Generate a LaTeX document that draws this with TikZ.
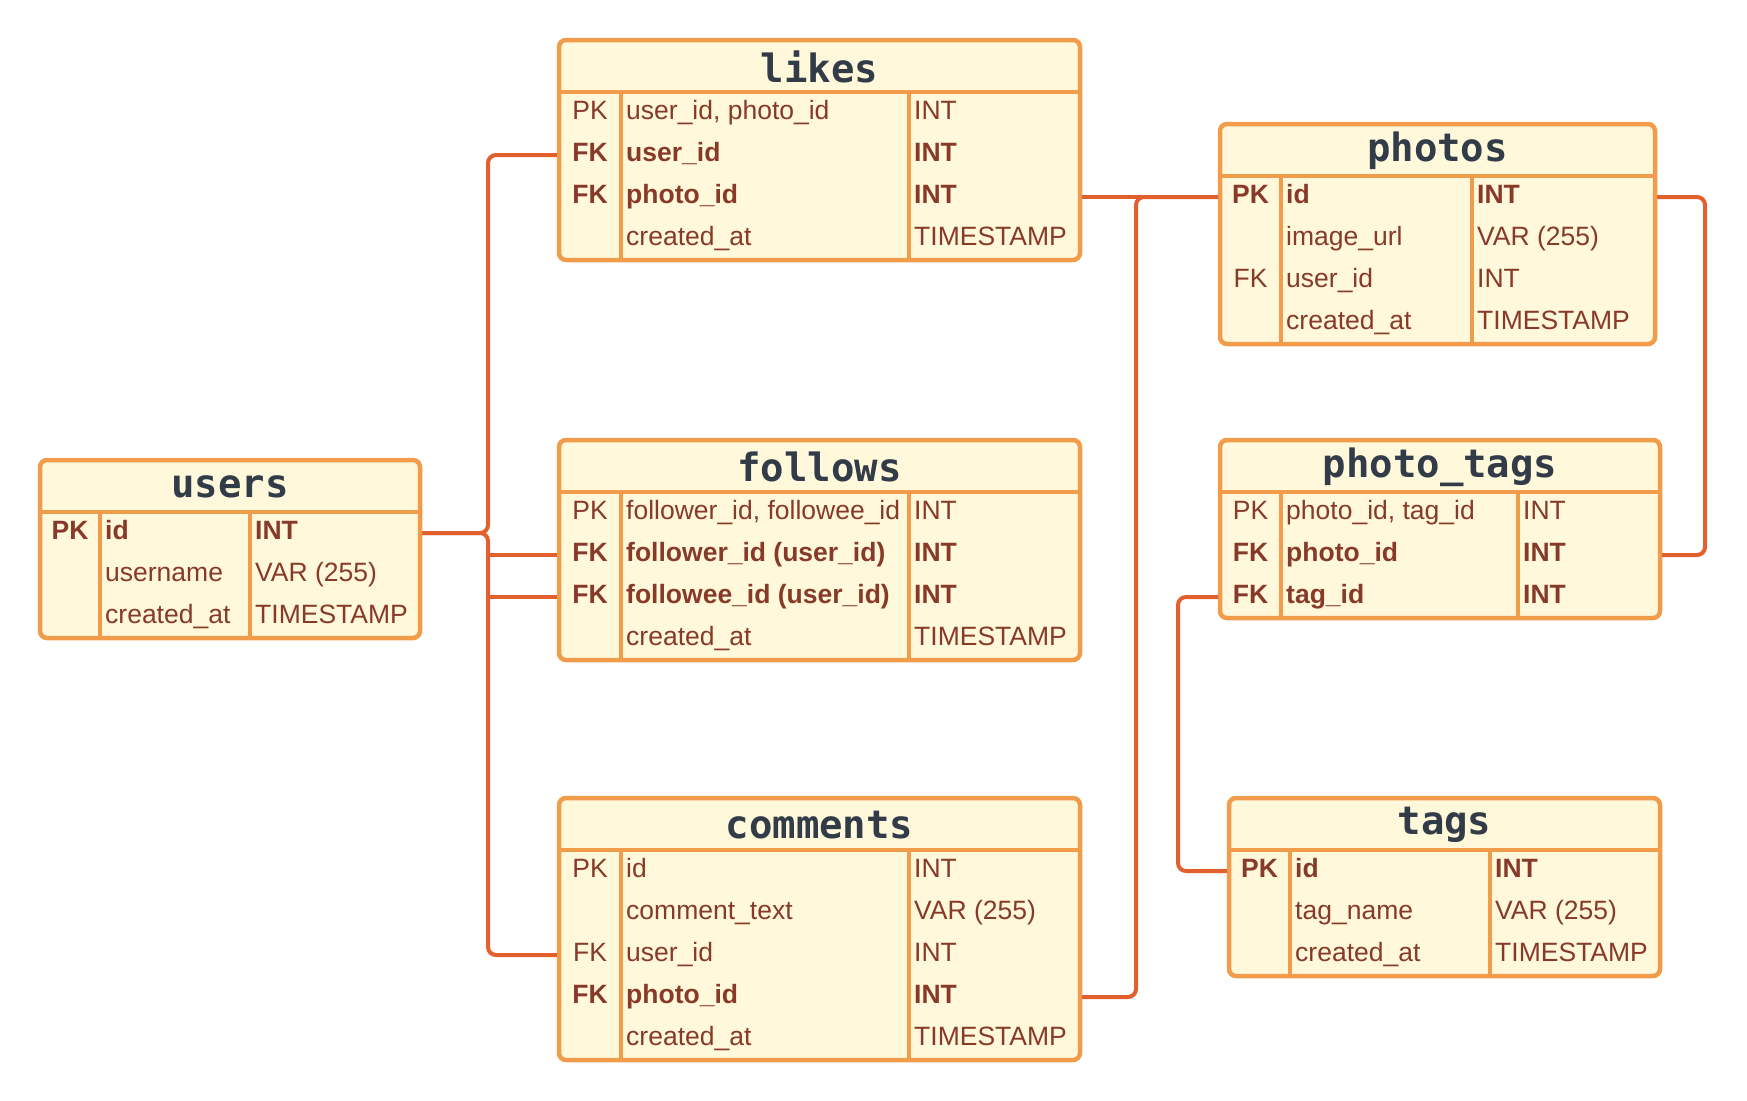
\documentclass[tikz,border=0pt]{standalone}
\usepackage{fontspec}
\setmainfont{Liberation Sans}
\setmonofont{DejaVu Sans Mono}
\usepackage{tikz}

\definecolor{boxfill}{HTML}{FFF8DA}
\definecolor{boxline}{HTML}{F09C4A}
\definecolor{linkline}{HTML}{E2602E}
\definecolor{celltext}{HTML}{873A28}
\definecolor{titletext}{HTML}{323C48}

% name, left, top, right, col1, col2, rows, title, cells
\newcommand\dbtable[9]{%
  \pgfmathsetmacro\tblbottom{#3+52+42*#7}
  \draw[tablebox] (#2,#3) rectangle (#4,\tblbottom);
  \draw[colrule] (#2,#3+52) -- (#4,#3+52)
                 (#5,#3+52) -- (#5,\tblbottom)
                 (#6,#3+52) -- (#6,\tblbottom);
  \node[tabletitle] (#1) at ({(#2+#4)/2},#3+27) {#8};
  \foreach \pk/\fld/\typ/\wt [count=\i] in {#9} {
    \pgfmathsetmacro\rowy{#3+52+42*\i-21}
    \coordinate (#1-w\i) at (#2,\rowy);
    \coordinate (#1-e\i) at (#4,\rowy);
    \node[\wt, anchor=base] (#1-k\i) at ({(#2+#5)/2},\rowy+6) {\pk};
    \node[\wt, anchor=base west] (#1-f\i) at (#5+5,\rowy+6) {\fld};
    \node[\wt, anchor=base west] (#1-t\i) at (#6+5,\rowy+6) {\typ};
  }
}

\begin{document}
\begin{tikzpicture}[x=1pt, y=-1pt,
    tablebox/.style={draw=boxline, fill=boxfill, line width=4.5pt, rounded corners=7pt},
    colrule/.style={draw=boxline, line width=4pt},
    link/.style={draw=linkline, line width=4pt, rounded corners=8pt,
                 shorten <=2pt, shorten >=2pt},
    tabletitle/.style={text=titletext, font=\ttfamily\bfseries\fontsize{39}{44}\selectfont},
    plainrow/.style={text=celltext, inner sep=0pt, font=\fontsize{26.5}{30}\selectfont},
    boldrow/.style={plainrow, font=\bfseries\fontsize{26.5}{30}\selectfont}]
  \useasboundingbox (0,0) rectangle (1747,1100);

  \dbtable{users}{40}{460}{420}{100}{250}{3}{users}
    {PK/id/INT/boldrow, /username/VAR (255)/plainrow, /created\_at/TIMESTAMP/plainrow}
  \dbtable{likes}{559}{40}{1080}{621}{909}{4}{likes}
    {PK/{user\_id, photo\_id}/INT/plainrow, FK/user\_id/INT/boldrow,
     FK/photo\_id/INT/boldrow, /created\_at/TIMESTAMP/plainrow}
  \dbtable{follows}{559}{440}{1080}{621}{909}{4}{follows}
    {PK/{follower\_id, followee\_id}/INT/plainrow, FK/follower\_id (user\_id)/INT/boldrow,
     FK/followee\_id (user\_id)/INT/boldrow, /created\_at/TIMESTAMP/plainrow}
  \dbtable{comments}{559}{798}{1080}{621}{909}{5}{comments}
    {PK/id/INT/plainrow, /comment\_text/VAR (255)/plainrow, FK/user\_id/INT/plainrow,
     FK/photo\_id/INT/boldrow, /created\_at/TIMESTAMP/plainrow}
  \dbtable{photos}{1220}{124}{1655}{1281}{1472}{4}{photos}
    {PK/id/INT/boldrow, /image\_url/VAR (255)/plainrow, FK/user\_id/INT/plainrow,
     /created\_at/TIMESTAMP/plainrow}
  \dbtable{ptags}{1220}{440}{1660}{1281}{1518}{3}{photo\_tags}
    {PK/{photo\_id, tag\_id}/INT/plainrow, FK/photo\_id/INT/boldrow, FK/tag\_id/INT/boldrow}
  \dbtable{tags}{1229}{798}{1660}{1290}{1490}{3}{tags}
    {PK/id/INT/boldrow, /tag\_name/VAR (255)/plainrow, /created\_at/TIMESTAMP/plainrow}

  \draw[link] (users-e1) -- ++(68,0) coordinate (ubus) |- (likes-w2);
  \draw[link] (users-e1) -- (ubus) |- (comments-w3);
  \draw[link] (ubus |- follows-w2) -- (follows-w2);
  \draw[link] (ubus |- follows-w3) -- (follows-w3);

  \draw[link] (likes-e3) -- (photos-w1);
  \draw[link] (photos-w1) -- ++(-84,0) |- (comments-e4);
  \draw[link] (photos-e1) -- ++(50,0) |- (ptags-e2);
  \draw[link] (ptags-w3) -- ++(-42,0) |- (tags-w1);
\end{tikzpicture}
\end{document}
